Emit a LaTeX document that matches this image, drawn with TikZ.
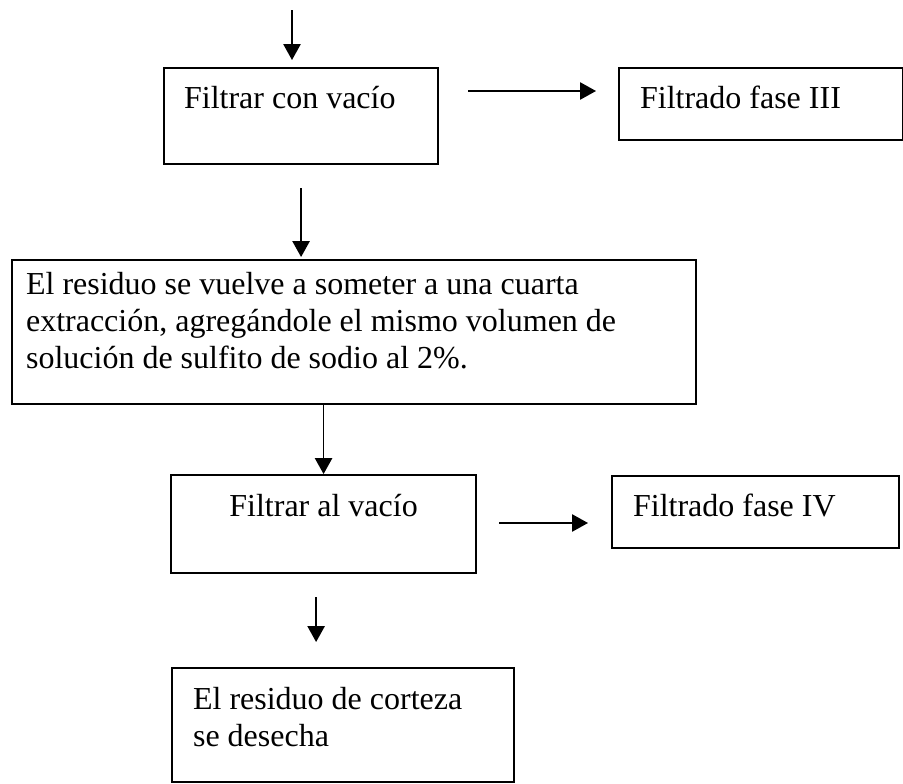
\documentclass[tikz,border=0pt]{standalone}
\usepackage{fontspec}
\setmainfont{Liberation Serif}
\usetikzlibrary{arrows.meta,positioning}

\begin{document}
\begin{tikzpicture}[
  x=0.75pt,y=-0.75pt,
  stepbox/.style={draw,line width=1.6pt,anchor=north west,inner xsep=15pt,inner ysep=0pt,font=\fontsize{24pt}{27.75pt}\selectfont},
  arr/.style={-{Triangle[width=13pt,length=12pt]},line width=1.2pt}
]
  \useasboundingbox (0,0) rectangle (903,783);
  \coordinate (top) at (292,10);
  \node[stepbox,text height=30pt,text depth=42pt] (vac1) at (163,67) {\parbox[t]{175.5pt}{Filtrar con vacío}};
  \node[stepbox,inner xsep=15.75pt,text height=30pt,text depth=24pt] (fase3) at (618,67) {\parbox[t]{181.5pt}{Filtrado fase III}};
  \node[stepbox,inner xsep=10.5pt,text height=25.5pt,text depth=82.5pt] (extr) at (11,259) {\parbox[t]{492pt}{El residuo se vuelve a someter a una cuarta\\
    extracción, agregándole el mismo volumen de\\
    solución de sulfito de sodio al 2\%.}};
  \node[stepbox,text height=30.75pt,text depth=42.75pt] (vac2) at (170,474) {\parbox[t]{198.75pt}{\centering Filtrar al vacío}};
  \node[stepbox,inner xsep=15.75pt,text height=30pt,text depth=24pt] (fase4) at (611,475) {\parbox[t]{183.75pt}{Filtrado fase IV}};
  \node[stepbox,inner xsep=15.75pt,text height=30.75pt,text depth=54.75pt] (resid) at (171,667) {\parbox[t]{225pt}{El residuo de corteza\\se desecha}};
  \draw[arr,shorten >=5.25pt] (top) -- (top |- vac1.north);
  \draw[arr,shorten <=21.75pt,shorten >=16.5pt] ([yshift=-18pt]vac1.north east) -- ([yshift=-18pt]vac1.north east -| fase3.west);
  \draw[arr,shorten <=17.25pt,shorten >=1.5pt] (vac1.south) -- (vac1.south |- extr.north);
  \draw[arr] (vac2.north |- extr.south) -- (vac2.north);
  \draw[arr,shorten <=16.5pt,shorten >=17.25pt] ([yshift=-36.75pt]vac2.north east) -- ([yshift=-36.75pt]vac2.north east -| fase4.west);
  \draw[arr,shorten <=17.25pt,shorten >=18.75pt] ([xshift=-5.6pt]vac2.south) -- ([xshift=-5.6pt]vac2.south |- resid.north);
\end{tikzpicture}
\end{document}
